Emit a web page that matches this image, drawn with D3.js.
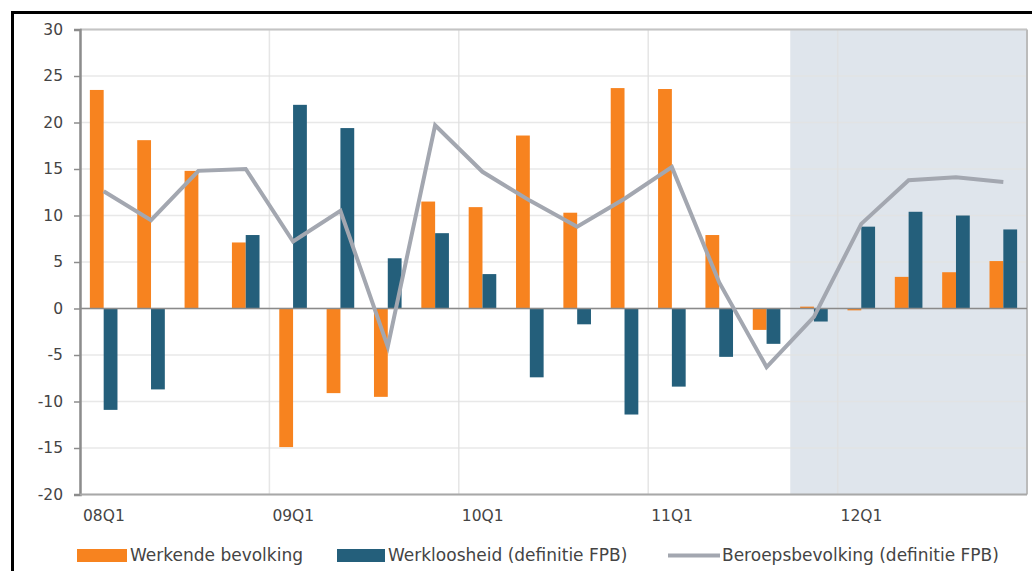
<!DOCTYPE html>
<html>
<head>
<meta charset="utf-8">
<script src="https://cdn.jsdelivr.net/npm/d3@7"></script>
<style>
	body { margin: 0; background: #fff; }
	text { font-family: "DejaVu Sans", sans-serif; fill: #444; }
</style>
</head>
<body>
<div id="chart"></div>
<script>
// kwartalen
var quarters = ["08Q1","08Q2","08Q3","08Q4","09Q1","09Q2","09Q3","09Q4",
	"10Q1","10Q2","10Q3","10Q4","11Q1","11Q2","11Q3","11Q4",
	"12Q1","12Q2","12Q3","12Q4"];

var werkende = [23.5, 18.1, 14.8, 7.1, -14.9, -9.1, -9.5, 11.5,
	10.9, 18.6, 10.3, 23.7, 23.6, 7.9, -2.3, 0.2,
	-0.2, 3.4, 3.9, 5.1];

var werkloosheid = [-10.9, -8.7, 0, 7.9, 21.9, 19.4, 5.4, 8.1,
	3.7, -7.4, -1.7, -11.4, -8.4, -5.2, -3.8, -1.4,
	8.8, 10.4, 10.0, 8.5];

var beroeps = [12.6, 9.5, 14.8, 15.0, 7.2, 10.5, -4.1, 19.7,
	14.7, 11.6, 8.8, 11.8, 15.2, 2.8, -6.3, -0.9,
	9.1, 13.8, 14.1, 13.6];

var yTicks = [-20, -15, -10, -5, 0, 5, 10, 15, 20, 25, 30];
var xLabels = ["08Q1", "09Q1", "10Q1", "11Q1", "12Q1"];
var forecastStart = "11Q4";

var legendNames = ["Werkende bevolking", "Werkloosheid (definitie FPB)", "Beroepsbevolking (definitie FPB)"];

var orange = "#f7831f";
var teal = "#245f7b";
var grey = "#a3a7b0";

var pLeft = 80, pRight = 1027, pTop = 29.5, pBottom = 494.5;

var svg = d3.select("#chart")
	.append("svg")
	.attr("width", 1032)
	.attr("height", 571);

var x = d3.scaleBand()
	.domain(quarters)
	.range([pLeft, pRight]);

var y = d3.scaleLinear()
	.domain([-20, 30])
	.range([pBottom, pTop]);

// frame
svg.append("line")
	.attr("x1", 12.5).attr("x2", 12.5)
	.attr("y1", 11).attr("y2", 571)
	.style("stroke", "#000").style("stroke-width", 3);
svg.append("line")
	.attr("x1", 11).attr("x2", 1032)
	.attr("y1", 12.5).attr("y2", 12.5)
	.style("stroke", "#000").style("stroke-width", 3);

// prognose gebied
svg.append("rect")
	.attr("x", x(forecastStart))
	.attr("y", pTop)
	.attr("width", pRight - x(forecastStart))
	.attr("height", pBottom - pTop)
	.style("fill", "#dfe5ec");

// grid
svg.selectAll(".hgrid")
	.data(yTicks)
	.enter().append("line")
	.attr("class", "hgrid")
	.attr("x1", pLeft).attr("x2", pRight)
	.attr("y1", function(d) { return y(d); })
	.attr("y2", function(d) { return y(d); })
	.style("stroke", "#e3e3e3")
	.style("stroke-width", 1.5)
	.style("opacity", 0.8);

svg.selectAll(".vgrid")
	.data(xLabels)
	.enter().append("line")
	.attr("class", "vgrid")
	.attr("x1", function(d) { return x(d); })
	.attr("x2", function(d) { return x(d); })
	.attr("y1", pTop).attr("y2", pBottom)
	.style("stroke", "#e0e0e0")
	.style("stroke-width", 1.5)
	.style("opacity", 0.8);

// rand boven/rechts
svg.append("line")
	.attr("x1", pLeft).attr("x2", pRight)
	.attr("y1", pTop).attr("y2", pTop)
	.style("stroke", "#c4c4c4").style("stroke-width", 2);
svg.append("line")
	.attr("x1", pRight).attr("x2", pRight)
	.attr("y1", pTop).attr("y2", pBottom)
	.style("stroke", "#bbbbbb").style("stroke-width", 2);

var bw = 13.8;

svg.selectAll(".bar1")
	.data(werkende)
	.enter().append("rect")
	.attr("class", "bar1")
	.attr("x", function(d, i) { return x(quarters[i]) + x.bandwidth() / 2 - bw; })
	.attr("y", function(d) { return y(Math.max(0, d)); })
	.attr("width", bw)
	.attr("height", function(d) { return Math.abs(y(d) - y(0)); })
	.style("fill", orange);

svg.selectAll(".bar2")
	.data(werkloosheid)
	.enter().append("rect")
	.attr("class", "bar2")
	.attr("x", function(d, i) { return x(quarters[i]) + x.bandwidth() / 2; })
	.attr("y", function(d) { return y(Math.max(0, d)); })
	.attr("width", bw)
	.attr("height", function(d) { return Math.abs(y(d) - y(0)); })
	.style("fill", teal);

// nul-lijn
svg.append("line")
	.attr("x1", pLeft).attr("x2", pRight)
	.attr("y1", y(0)).attr("y2", y(0))
	.style("stroke", "#8a8a8a").style("stroke-width", 1.5);

var line = d3.line()
	.x(function(d, i) { return x(quarters[i]) + x.bandwidth() / 2; })
	.y(function(d) { return y(d); });

svg.append("path")
	.datum(beroeps)
	.attr("d", line)
	.style("fill", "none")
	.style("stroke", grey)
	.style("stroke-width", 4)
	.style("stroke-linejoin", "miter");

// y as
var yAxis = svg.append("g")
	.attr("transform", "translate(" + pLeft + ",0)")
	.call(d3.axisLeft(y).tickValues(yTicks).tickSize(6).tickPadding(11)
		.tickFormat(function(d) { return String(d); }));
yAxis.select(".domain").style("stroke", "#8c8c8c").style("stroke-width", 2.5);
yAxis.selectAll(".tick line").style("stroke", "#8c8c8c").style("stroke-width", 1.5);
yAxis.selectAll(".tick text").style("font-size", "15.5px").style("fill", "#444").style("font-family", "DejaVu Sans");

// x as
svg.append("line")
	.attr("x1", pLeft).attr("x2", pRight)
	.attr("y1", pBottom).attr("y2", pBottom)
	.style("stroke", "#a8a8a8").style("stroke-width", 2);

svg.selectAll(".xlab")
	.data(xLabels)
	.enter().append("text")
	.attr("class", "xlab")
	.attr("x", function(d) { return x(d) + 3; })
	.attr("y", 521)
	.style("font-size", "15.5px")
	.text(function(d) { return d; });

// legenda
var legend = svg.append("g");
legend.append("rect")
	.attr("x", 77).attr("y", 549).attr("width", 50).attr("height", 13)
	.style("fill", orange);
legend.append("text")
	.attr("x", 130).attr("y", 561)
	.style("font-size", "17px")
	.text(legendNames[0]);
legend.append("rect")
	.attr("x", 337).attr("y", 549).attr("width", 48).attr("height", 13)
	.style("fill", teal);
legend.append("text")
	.attr("x", 388).attr("y", 561)
	.style("font-size", "17px")
	.text(legendNames[1]);
legend.append("line")
	.attr("x1", 668).attr("x2", 720).attr("y1", 555.5).attr("y2", 555.5)
	.style("stroke", grey).style("stroke-width", 4);
legend.append("text")
	.attr("x", 722).attr("y", 561)
	.style("font-size", "17px")
	.text(legendNames[2]);
</script>
</body>
</html>
